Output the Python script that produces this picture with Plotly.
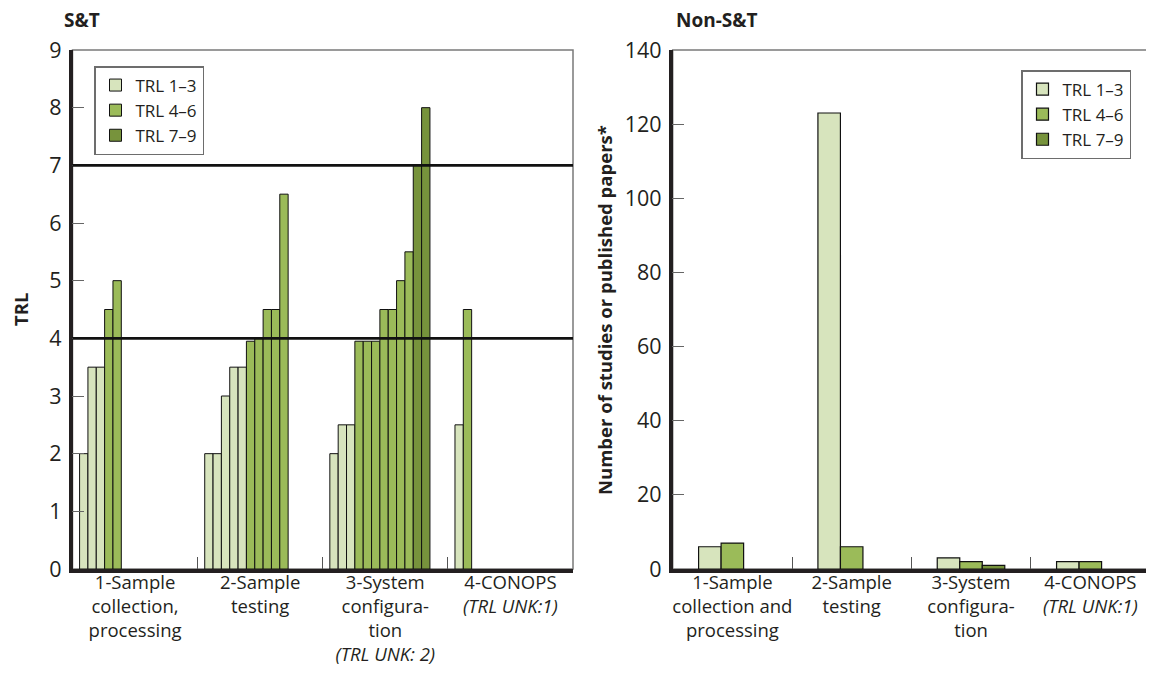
import plotly.graph_objects as go

# ---------------- Data ----------------
band_names = ["TRL 1\u20133", "TRL 4\u20136", "TRL 7\u20139"]
band_colors = ["#d7e4bd", "#9bbb59", "#77933c"]

# S&T: each bar is one study, value = TRL, band = colour class (0,1,2)
st_cat1_trl = [2.0, 3.5, 3.5, 4.5, 5.0]
st_cat1_band = [0, 0, 0, 1, 1]
st_cat2_trl = [2.0, 2.0, 3.0, 3.5, 3.5, 3.95, 4.0, 4.5, 4.5, 6.5]
st_cat2_band = [0, 0, 0, 0, 0, 1, 1, 1, 1, 1]
st_cat3_trl = [2.0, 2.5, 2.5, 3.95, 3.95, 3.95, 4.5, 4.5, 5.0, 5.5, 7.0, 8.0]
st_cat3_band = [0, 0, 0, 1, 1, 1, 1, 1, 1, 1, 2, 2]
st_cat4_trl = [2.5, 4.5]
st_cat4_band = [0, 1]

st_labels = [
    "1-Sample<br>collection,<br>processing",
    "2-Sample<br>testing",
    "3-System<br>configura-<br>tion<br><i>(TRL UNK: 2)</i>",
    "4-CONOPS<br><i>(TRL UNK:1)</i>",
]
st_thresholds = [4, 7]

# Non-S&T: number of studies per category
nonst_labels = [
    "1-Sample<br>collection and<br>processing",
    "2-Sample<br>testing",
    "3-System<br>configura-<br>tion",
    "4-CONOPS<br><i>(TRL UNK:1)</i>",
]
nonst_trl_1_3 = [6, 123, 3, 2]
nonst_trl_4_6 = [7, 6, 2, 2]
nonst_trl_7_9 = [0, 0, 1, 0]

# ---------------- Build ----------------
FONT = "Open Sans"
TXT = "#231f20"
CAT_W = 15       # units per category on the S&T axis
PAD = 0.85       # units before first bar in a category
OFF = 8          # page body margin
W, H = 1154 - OFF, 675 - OFF


def px(x):
    return (x - OFF) / W


def py(y):
    return 1 - (y - OFF) / H


fig = go.Figure()

st_groups = [(st_cat1_trl, st_cat1_band), (st_cat2_trl, st_cat2_band),
             (st_cat3_trl, st_cat3_band), (st_cat4_trl, st_cat4_band)]

for b in range(3):
    xs, ys = [], []
    for k, (vals, bands) in enumerate(st_groups):
        for i, (v, bb) in enumerate(zip(vals, bands)):
            if bb == b:
                xs.append(k * CAT_W + PAD + i)
                ys.append(v)
    fig.add_trace(go.Bar(
        x=xs, y=ys, width=1, offset=0,
        name=band_names[b],
        marker=dict(color=band_colors[b], line=dict(color="#111111", width=1)),
        xaxis="x", yaxis="y", legend="legend",
        hoverinfo="y",
    ))

nonst_x = list(range(len(nonst_labels)))
for b, vals in enumerate([nonst_trl_1_3, nonst_trl_4_6, nonst_trl_7_9]):
    fig.add_trace(go.Bar(
        x=nonst_x, y=[v if v > 0 else None for v in vals], name=band_names[b],
        marker=dict(color=band_colors[b], line=dict(color="#111111", width=1.2)),
        xaxis="x2", yaxis="y2", legend="legend2",
        hoverinfo="y",
    ))

L_DOM = [px(72.5), px(573)]
R_DOM = [px(672.7), px(1150)]
Y_DOM = [py(569), py(50)]

common_x = dict(
    showline=True, linewidth=3.5, linecolor=TXT, ticks="", showgrid=False,
    zeroline=False, tickfont=dict(family=FONT, size=18.5, color=TXT),
    fixedrange=True, automargin=False, ticklabelstandoff=-6,
)
common_y = dict(
    showline=True, linewidth=3.5, linecolor=TXT, ticks="inside", ticklen=12,
    tickwidth=1, tickcolor="#666666", showgrid=False, zeroline=False,
    tickfont=dict(family=FONT, size=21.5, color=TXT), ticklabelstandoff=3,
    fixedrange=True, automargin=False,
)

legend_common = dict(
    xanchor="left", yanchor="top", bordercolor="#6d6d6d", borderwidth=1.5,
    bgcolor="white", font=dict(family=FONT, size=17, color=TXT),
    itemclick=False, itemdoubleclick=False, tracegroupgap=0,
)

fig.update_layout(
    width=W, height=H, autosize=False,
    margin=dict(l=0, r=0, t=0, b=0, pad=0),
    paper_bgcolor="white", plot_bgcolor="white",
    barmode="group", bargap=0.434, bargroupgap=0,
    font=dict(family=FONT, color=TXT),
    xaxis=dict(domain=L_DOM, anchor="y", range=[0, 4 * CAT_W],
               tickmode="array",
               tickvals=[k * CAT_W + CAT_W / 2 for k in range(4)],
               ticktext=st_labels,
               minor=dict(tickmode="array",
                          tickvals=[k * CAT_W for k in range(1, 4)],
                          ticks="inside", ticklen=12, tickwidth=1.2,
                          tickcolor="#555555", showgrid=False),
               **common_x),
    yaxis=dict(domain=Y_DOM, anchor="x", range=[0, 9], tickmode="linear",
               tick0=0, dtick=1, **common_y),
    xaxis2=dict(domain=R_DOM, anchor="y2", range=[-0.5, 3.5],
                tickmode="array", tickvals=nonst_x, ticktext=nonst_labels,
                minor=dict(tickmode="array", tickvals=[0.5, 1.5, 2.5],
                           ticks="inside", ticklen=12, tickwidth=1.2,
                           tickcolor="#555555", showgrid=False),
                **common_x),
    yaxis2=dict(domain=Y_DOM, anchor="x2", range=[0, 140], tickmode="linear",
                tick0=0, dtick=20, **common_y),
    legend=dict(x=px(94), y=py(66), **legend_common),
    legend2=dict(x=px(1021), y=py(70), **legend_common),
    showlegend=True,
)

shapes = []
# thin frame around each plot area
for xr, yr in [("x domain", "y domain"), ("x2 domain", "y2 domain")]:
    shapes.append(dict(type="rect", xref=xr, yref=yr, x0=0, x1=1, y0=0, y1=1,
                       line=dict(color="#7a7a7a", width=1.5), layer="below"))
# threshold lines on S&T chart
for t in st_thresholds:
    shapes.append(dict(type="line", xref="x domain", yref="y", x0=0, x1=1,
                       y0=t, y1=t, line=dict(color="#111111", width=2.8),
                       layer="above"))
fig.update_layout(shapes=shapes)

annotations = [
    dict(text="<b>S&T</b>", x=px(62), y=py(20), xref="paper", yref="paper",
         xanchor="left", yanchor="middle", showarrow=False,
         font=dict(family=FONT, size=19, color=TXT)),
    dict(text="<b>Non-S&T</b>", x=px(674), y=py(20), xref="paper", yref="paper",
         xanchor="left", yanchor="middle", showarrow=False,
         font=dict(family=FONT, size=19, color=TXT)),
    dict(text="<b>TRL</b>", x=px(20), y=py(310), xref="paper", yref="paper",
         xanchor="center", yanchor="middle", showarrow=False, textangle=-90,
         font=dict(family=FONT, size=18.5, color=TXT)),
    dict(text="<b>Number of studies or published papers*</b>", x=px(604),
         y=py(310), xref="paper", yref="paper",
         xanchor="center", yanchor="middle", showarrow=False, textangle=-90,
         font=dict(family=FONT, size=18.5, color=TXT)),
]
fig.update_layout(annotations=annotations)

fig.write_html("out.html")
